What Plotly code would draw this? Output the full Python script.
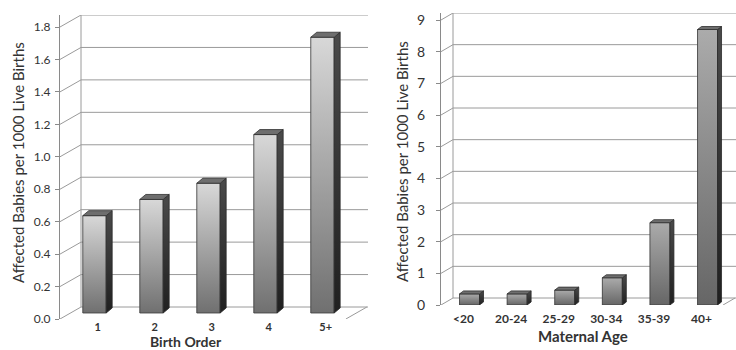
import plotly.graph_objects as go

# ---------------- data ----------------
birth_order = ["1", "2", "3", "4", "5+"]
birth_order_rate = [0.6, 0.7, 0.8, 1.1, 1.7]

maternal_age = ["<20", "20-24", "25-29", "30-34", "35-39", "40+"]
maternal_age_rate = [0.35, 0.35, 0.47, 0.86, 2.6, 8.7]

left_ticks = [0.0, 0.2, 0.4, 0.6, 0.8, 1.0, 1.2, 1.4, 1.6, 1.8]
right_ticks = [0, 1, 2, 3, 4, 5, 6, 7, 8, 9]

y_title = "Affected Babies per 1000 Live Births"
left_x_title = "Birth Order"
right_x_title = "Maternal Age"

# ---------------- style ----------------
W, H = 736, 350
FONT = "Lato, 'Open Sans', sans-serif"
TXT = "#333333"
GRID = "#9a9a9a"
AXIS = "#8a8a8a"

panels = [
    dict(
        cats=birth_order, vals=birth_order_rate, ticks=left_ticks, fmt="{:.1f}",
        xa="x", ya="y", xkey="xaxis", ykey="yaxis",
        px_x=(60, 368), px_y=(15, 319),        # plot area in pixels (left,right) (top,bottom)
        xr=(-0.421, 4.983),
        wall=(21, 12), plane=(10.5, 6), depth=(6, 5), bar_w=0.41,
        tick_off=0.24, ytickfont=12, xtickfont=11, ystand=2, xstand=0,
        front_scale=[[0, "#707070"], [0.5, "#a4a4a4"], [1, "#d8d8d8"]],
    ),
    dict(
        cats=maternal_age, vals=maternal_age_rate, ticks=right_ticks, fmt="{:d}",
        xa="x2", ya="y2", xkey="xaxis2", ykey="yaxis2",
        px_x=(441, 736), px_y=(13, 305),
        xr=(-0.473, 5.724),
        wall=(12, 7), plane=(6, 0), depth=(4, 3), bar_w=0.42,
        tick_off=0.0, ytickfont=14, xtickfont=12, ystand=8, xstand=5,
        front_scale=[[0, "#666666"], [1, "#ababab"]],
    ),
]

fig = go.Figure()
layout = dict(
    width=W, height=H, margin=dict(l=0, r=0, t=0, b=0, autoexpand=False),
    paper_bgcolor="white", plot_bgcolor="white", showlegend=False,
    font=dict(family=FONT, color=TXT),
    hovermode=False,
)

for p in panels:
    vals = p["vals"]
    ticks = p["ticks"]
    ymax_front = ticks[-1]
    px_w = p["px_x"][1] - p["px_x"][0]
    px_h = p["px_y"][1] - p["px_y"][0]
    x0, x1 = p["xr"]
    upx = (x1 - x0) / px_w                       # x units per pixel
    ppy = (px_h - p["wall"][1]) / ymax_front     # pixels per y unit (front plane)
    upy = 1.0 / ppy
    y1 = px_h * upy
    wdx, wdy = p["wall"][0] * upx, p["wall"][1] * upy
    pdx, pdy = p["plane"][0] * upx, p["plane"][1] * upy
    ddx, ddy = p["depth"][0] * upx, p["depth"][1] * upy
    hw = p["bar_w"] / 2
    xa, ya = p["xa"], p["ya"]

    # --- walls: left side diagonals, back wall gridlines, back wall edge, floor ---
    gx, gy = [], []
    for t in ticks:
        gx += [x0, x0 + wdx, x1, None]
        gy += [t, t + wdy, t + wdy, None]
    gx += [x0 + wdx, x0 + wdx, None]
    gy += [wdy, ymax_front + wdy, None]
    gx += [x1 - wdx - 0.02, x1 - 0.02, None]
    gy += [0, wdy, None]
    fig.add_trace(go.Scatter(x=gx, y=gy, xaxis=xa, yaxis=ya, mode="lines",
                             line=dict(color=GRID, width=1), hoverinfo="skip"))

    centers = [i + pdx for i in range(len(vals))]
    # front faces as bars
    fig.add_trace(go.Bar(x=centers, y=vals, base=pdy, width=p["bar_w"], xaxis=xa, yaxis=ya,
                         marker=dict(color="#9a9a9a", line=dict(width=0)), hoverinfo="skip"))
    for c, v in zip(centers, vals):
        yb, yt = pdy, pdy + v
        # gradient front face
        fig.add_trace(go.Scatter(
            x=[c - hw, c + hw, c + hw, c - hw, c - hw],
            y=[yb, yb, yt, yt, yb], xaxis=xa, yaxis=ya, mode="lines",
            fill="toself", line=dict(color="#3a3a3a", width=0.8),
            fillgradient=dict(type="vertical", colorscale=p["front_scale"]),
            hoverinfo="skip"))
        # side face
        fig.add_trace(go.Scatter(
            x=[c + hw, c + hw + ddx, c + hw + ddx, c + hw, c + hw],
            y=[yb, yb + ddy, yt + ddy, yt, yb], xaxis=xa, yaxis=ya, mode="lines",
            fill="toself", line=dict(color="#2a2a2a", width=0.8),
            fillgradient=dict(type="vertical", colorscale=[[0, "#202020"], [1, "#4a4a4a"]]),
            hoverinfo="skip"))
        # top face
        fig.add_trace(go.Scatter(
            x=[c - hw, c - hw + ddx, c + hw + ddx, c + hw, c - hw],
            y=[yt, yt + ddy, yt + ddy, yt, yt], xaxis=xa, yaxis=ya, mode="lines",
            fill="toself", fillcolor="#6e6e6e", line=dict(color="#2f2f2f", width=0.8),
            hoverinfo="skip"))

    dom_x = [p["px_x"][0] / W, p["px_x"][1] / W]
    dom_y = [1 - p["px_y"][1] / H, 1 - p["px_y"][0] / H]
    layout[p["xkey"]] = dict(
        domain=dom_x, range=[x0, x1], showgrid=False, zeroline=False, showline=False,
        tickvals=[i + p["tick_off"] for i in range(len(p["cats"]))],
        ticktext=["<b>" + c + "</b>" for c in p["cats"]],
        ticks="", tickfont=dict(size=p["xtickfont"], color=TXT, family=FONT),
        ticklabelstandoff=p["xstand"], anchor=ya, fixedrange=True,
    )
    layout[p["ykey"]] = dict(
        domain=dom_y, range=[0, y1], showgrid=False, zeroline=False,
        showline=True, linecolor=AXIS, linewidth=1,
        ticks="outside", ticklen=4, tickcolor=AXIS,
        tickvals=ticks, ticktext=[p["fmt"].format(t) for t in ticks],
        tickfont=dict(size=p["ytickfont"], color=TXT, family=FONT),
        ticklabelstandoff=p["ystand"], anchor=xa, fixedrange=True,
    )

annotations = [
    dict(text=y_title, x=18 / W, y=1 - 163 / H, textangle=-90, font=dict(size=15)),
    dict(text=y_title, x=402 / W, y=1 - 162 / H, textangle=-90, font=dict(size=15)),
    dict(text="<b>" + left_x_title + "</b>", x=186 / W, y=1 - 341 / H, font=dict(size=14)),
    dict(text="<b>" + right_x_title + "</b>", x=583 / W, y=1 - 336 / H, font=dict(size=15)),
]
for a in annotations:
    a.update(xref="paper", yref="paper", showarrow=False, xanchor="center", yanchor="middle")
    a["font"].update(family=FONT, color=TXT)
layout["annotations"] = annotations

fig.update_layout(**layout)
fig.write_html(
    "out.html",
    config={"displayModeBar": False},
    post_script="document.body.style.margin='0';document.body.style.padding='0';",
)
